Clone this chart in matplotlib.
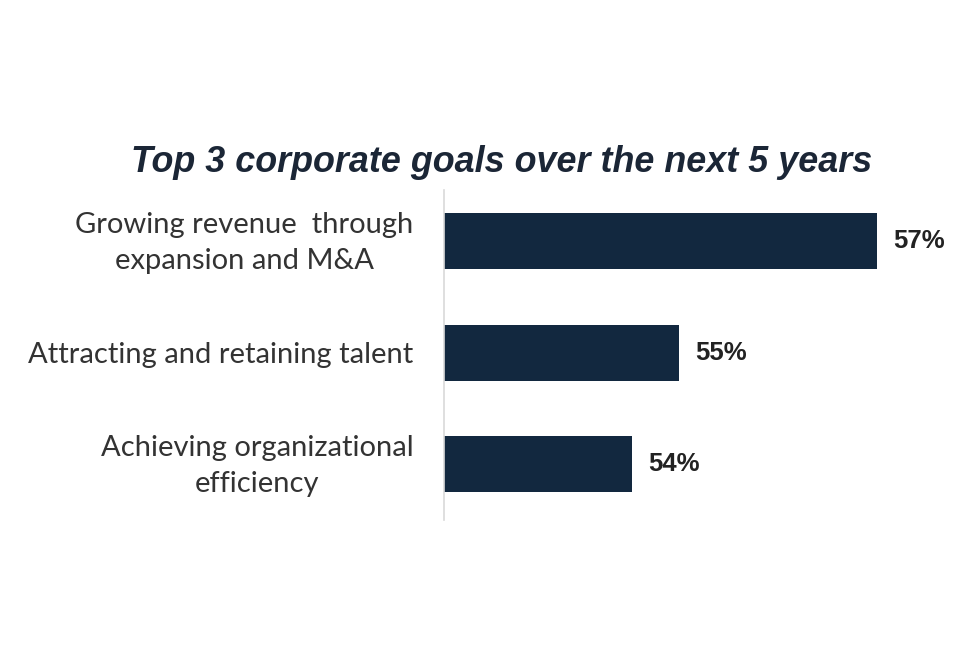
import matplotlib
matplotlib.use("Agg")
import matplotlib.pyplot as plt
import matplotlib.transforms as mtransforms

# data (bar lengths are drawn a bit below the rounded labels)
goals = ["Growing revenue  through\nexpansion and M&A",
         "Attracting and retaining talent",
         "Achieving organizational\nefficiency"]
values = [56.6, 54.82, 54.4]
labels = ["57%", "55%", "54%"]

BAR = "#12283f"
W, H = 960, 654

fig = plt.figure(figsize=(W / 100, H / 100), dpi=100)
# axes box in pixel terms: x 444..944, y 190..520
ax = fig.add_axes([444 / W, 1 - 520 / H, 500 / W, 330 / H])
ypos = list(range(len(goals)))
ax.barh(ypos, values, height=0.5, color=BAR, left=0)
ax.set_xlim(52.71, 52.71 + 500 / 111.4)
ax.set_ylim(2.5, -0.46)

for y, v, lab in zip(ypos, values, labels):
    ax.annotate(lab, (v, y), xytext=(11.5, 0), textcoords="offset points",
                ha="left", va="center", fontsize=18.5, fontweight="bold",
                family="Liberation Sans", color="#222222")

ax.set_yticks(ypos)
ax.set_yticklabels(goals, fontsize=21, family="Lato", color="#333333",
                   multialignment="center", linespacing=1.5)
ax.tick_params(axis="y", length=0, pad=22)
# two-line labels sit a little low; nudge them up
shift = mtransforms.ScaledTranslation(0, 6 / 100, fig.dpi_scale_trans)
for t in ax.get_yticklabels():
    if "\n" in t.get_text():
        t.set_transform(t.get_transform() + shift)
ax.set_xticks([])
for s in ("top", "right", "bottom"):
    ax.spines[s].set_visible(False)
ax.spines["left"].set_color("#d9d9d9")
ax.spines["left"].set_linewidth(1.2)

fig.text(502 / W, 1 - 162 / H, "Top 3 corporate goals over the next 5 years",
         ha="center", va="center", fontsize=25.8, fontweight="bold",
         style="italic", family="Liberation Sans", color="#1b2636")

fig.savefig("out.png", dpi=100)
